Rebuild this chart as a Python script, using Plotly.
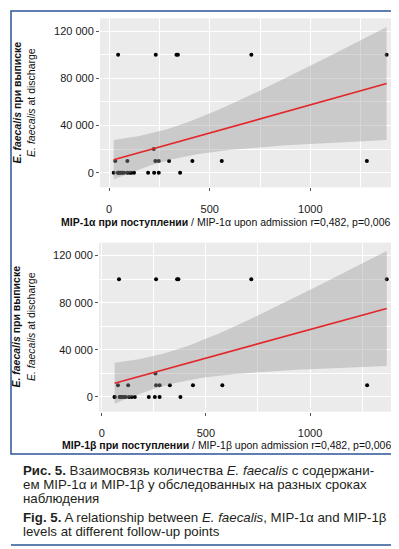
import math
import numpy as np
import plotly.graph_objects as go

W, H = 399, 549

# ---- data ----
mip1a = [45, 232, 335, 342, 707, 1379,
         222,
         31, 91, 230, 247, 298, 414, 560, 1281,
         23, 45, 45, 50, 56, 65, 65, 75, 91, 103, 111, 124, 194, 224, 247, 353]
ef_a = [100000, 100000, 100000, 100000, 100000, 100000,
        20000,
        10000, 10000, 10000, 10000, 10000, 10000, 10000, 10000,
        0, 0, 0, 0, 0, 0, 0, 0, 0, 0, 0, 0, 0, 0, 0, 0]

mip1b = [83, 261, 362, 368, 718, 1368,
         258,
         78, 127, 261, 278, 327, 438, 579, 1274,
         62, 62, 86, 91, 91, 99, 107, 115, 131, 144, 159, 226, 255, 278, 378]
ef_b = [100000, 100000, 100000, 100000, 100000, 100000,
        20000,
        10000, 10000, 10000, 10000, 10000, 10000, 10000, 10000,
        0, 0, 0, 0, 0, 0, 0, 0, 0, 0, 0, 0, 0, 0, 0]

x_ticks = [0, 500, 1000]
x_minor = [250, 750, 1250]
y_ticks = [0, 40000, 80000, 120000]
y_ticktext = ["0", "40 000", "80 000", "120 000"]
y_minor = [20000, 60000, 100000]

xtitle_a = "<b>MIP-1α при поступлении</b> / MIP-1α upon admission r=0,482, p=0,006"
xtitle_b = "<b>MIP-1β при поступлении</b> / MIP-1β upon admission r=0,482, p=0,006"
ytitle_1 = "<b><i>E. faecalis</i> при выписке</b>"
ytitle_2 = "<i>E. faecalis</i> at discharge"

caption = [
    "<b>Рис. 5.</b> Взаимосвязь количества <i>E. faecalis</i> с содержани-",
    "ем MIP-1α и MIP-1β у обследованных на разных сроках",
    "наблюдения",
    "<b>Fig. 5.</b> A relationship between <i>E. faecalis</i>, MIP-1α and MIP-1β",
    "levels at different follow-up points",
]


def t975(df):
    xs = np.linspace(0, 12, 120001)
    c = math.gamma((df + 1) / 2) / (math.sqrt(df * math.pi) * math.gamma(df / 2))
    pdf = c * (1 + xs ** 2 / df) ** (-(df + 1) / 2)
    cdf = 0.5 + np.concatenate([[0], np.cumsum((pdf[1:] + pdf[:-1]) / 2 * np.diff(xs))])
    return float(np.interp(0.975, cdf, xs))


def lm_fit(x, y):
    x = np.asarray(x, float)
    y = np.asarray(y, float)
    n = len(x)
    b, a = np.polyfit(x, y, 1)
    resid = y - (a + b * x)
    s = math.sqrt((resid ** 2).sum() / (n - 2))
    xg = np.linspace(x.min(), x.max(), 80)
    yg = a + b * xg
    se = s * np.sqrt(1 / n + (xg - x.mean()) ** 2 / ((x - x.mean()) ** 2).sum())
    t = t975(n - 2)
    return xg, yg, yg - t * se, yg + t * se


def px(p):
    return p / W


def py(p):
    return 1 - p / H


FONT = "Liberation Sans, Arial, sans-serif"
fig = go.Figure()

panels = [
    (mip1a, ef_a, "x", "y"),
    (mip1b, ef_b, "x2", "y2"),
]
for xs, ys, xa, ya in panels:
    fig.add_trace(go.Scatter(x=xs, y=ys, mode="markers", xaxis=xa, yaxis=ya,
                             marker=dict(color="black", size=4), showlegend=False,
                             hoverinfo="skip"))
    xg, yg, lo, hi = lm_fit(xs, ys)
    fig.add_trace(go.Scatter(x=np.concatenate([xg, xg[::-1]]),
                             y=np.concatenate([hi, lo[::-1]]),
                             fill="toself", fillcolor="rgba(153,153,153,0.4)",
                             line=dict(width=0), mode="lines", xaxis=xa, yaxis=ya,
                             showlegend=False, hoverinfo="skip"))
    fig.add_trace(go.Scatter(x=xg, y=yg, mode="lines", xaxis=xa, yaxis=ya,
                             line=dict(color="#E3262A", width=1.6),
                             showlegend=False, hoverinfo="skip"))

common_x = dict(tickvals=x_ticks, ticks="outside", ticklen=3, tickcolor="#555",
                tickwidth=1, showgrid=True, gridcolor="white", gridwidth=1.1,
                zeroline=False, showline=False, ticklabelstandoff=8,
                tickfont=dict(family=FONT, size=11, color="#1a1a1a"),
                minor=dict(tickvals=x_minor, showgrid=True, gridcolor="white",
                           gridwidth=0.5, ticks=""))
common_y = dict(tickvals=y_ticks, ticktext=y_ticktext, ticks="outside", ticklen=3,
                tickcolor="#555", tickwidth=1, showgrid=True, gridcolor="white",
                gridwidth=1.1, zeroline=False, showline=False,
                tickfont=dict(family=FONT, size=11, color="#1a1a1a"),
                minor=dict(tickvals=y_minor, showgrid=True, gridcolor="white",
                           gridwidth=0.5, ticks=""),
                range=[-12500, 131000])

fig.update_layout(
    width=W, height=H, margin=dict(l=0, r=0, t=0, b=0),
    paper_bgcolor="white", plot_bgcolor="#EBEBEB",
    xaxis=dict(domain=[px(92), px(393.3)], anchor="y", range=[-45, 1452], **common_x),
    yaxis=dict(domain=[py(179.4), py(10.35)], anchor="x", **common_y),
    xaxis2=dict(domain=[px(91), px(393.3)], anchor="y2", range=[-13, 1438], **common_x),
    yaxis2=dict(domain=[py(403.7), py(234.6)], anchor="x2", **common_y),
)

ann = []
for ycen, title in [(214, xtitle_a), (437, xtitle_b)]:
    ann.append(dict(x=px(385), y=py(ycen), xref="paper", yref="paper", text=title,
                    showarrow=False, xanchor="right", yanchor="middle",
                    font=dict(family=FONT, size=10.5, color="#111")))
for ycen in [94.9, 319.1]:
    ann.append(dict(x=px(8.5), y=py(ycen), xref="paper", yref="paper", text=ytitle_1,
                    showarrow=False, textangle=-90, xanchor="center", yanchor="middle",
                    font=dict(family=FONT, size=10.5, color="#111")))
    ann.append(dict(x=px(23), y=py(ycen), xref="paper", yref="paper", text=ytitle_2,
                    showarrow=False, textangle=-90, xanchor="center", yanchor="middle",
                    font=dict(family=FONT, size=10.5, color="#111")))
for ycen, line in zip([462.5, 476.5, 490.5, 509.5, 523.5], caption):
    ann.append(dict(x=px(13), y=py(ycen), xref="paper", yref="paper", text=line,
                    showarrow=False, xanchor="left", yanchor="middle",
                    font=dict(family=FONT, size=13.3, color="#231F20")))
fig.update_layout(annotations=ann)

BLUE = "#2A5697"
fig.add_shape(type="rect", xref="paper", yref="paper", x0=px(3), x1=px(396),
              y0=py(446), y1=py(3), line=dict(color=BLUE, width=1.5))
fig.add_shape(type="line", xref="paper", yref="paper", x0=px(3), x1=px(396),
              y0=py(537), y1=py(537), line=dict(color=BLUE, width=1.5))

fig.write_html("out.html")
